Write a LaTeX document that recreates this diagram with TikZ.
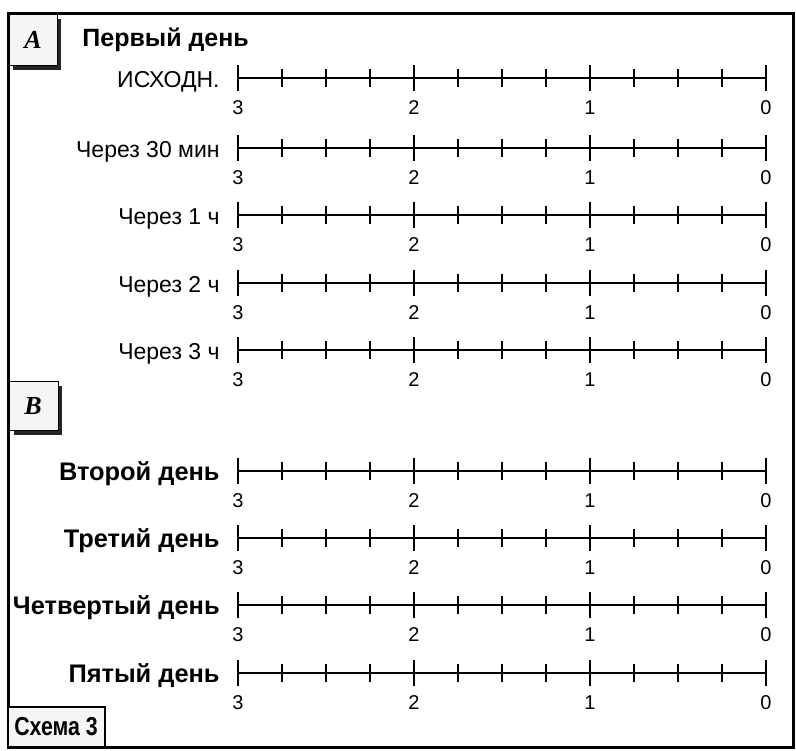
\documentclass[tikz,border=0pt]{standalone}
\usepackage{fontspec}
\setmainfont{Liberation Sans}
\newfontfamily\abfont{Liberation Serif}
\newfontfamily\narrowfont[FakeStretch=0.82]{Liberation Sans}

\begin{document}
\begin{tikzpicture}[x=0.5pt,y=-0.5pt,
    axis/.style={line width=1.4pt},
    major/.style={line width=1pt},
    minor/.style={line width=0.6pt},
    lbl/.style={anchor=base east,inner sep=0,font=\fontsize{11.5}{13}\selectfont},
    daylbl/.style={anchor=base east,inner sep=0,font=\bfseries\fontsize{12.7}{15}\selectfont},
    num/.style={anchor=base,inner sep=0,font=\fontsize{10}{11}\selectfont},
    tag/.style={inner sep=0,font=\abfont\bfseries\itshape\fontsize{13}{15}\selectfont}]
    \useasboundingbox (0,0) rectangle (796,750);
    %frame
    \draw [line width=1.5pt] (8,13) rectangle (793,747);
    %box A
    \fill [black!85] (13,19) rectangle (61,70);
    \draw [fill=gray!8] (9,14) rectangle (57,65);
    \node [tag] (tagA) at (33,40) {A};
    \node [anchor=base west,inner sep=0,font=\bfseries\fontsize{12.5}{15}\selectfont] (day1) at (82,46) {Первый день};
    %box B
    \fill [black!85] (14,386) rectangle (62,435);
    \draw [fill=gray!8] (9,381) rectangle (58,430);
    \node [tag] (tagB) at (33,406) {B};
    %scales
    \foreach \y/\t/\s in {78/ИСХОДН./lbl,148/Через 30 мин/lbl,215/Через 1 ч/lbl,283/Через 2 ч/lbl,350/Через 3 ч/lbl,
        471/Второй день/daylbl,538/Третий день/daylbl,605/Четвертый день/daylbl,673/Пятый день/daylbl} {
      \node [\s] (row\y) at (220,\y+9) {\t};
      \draw [axis] (238,\y) -- (766,\y);
      \foreach \i in {1,2,3,5,6,7,9,10,11}
        \draw [minor] (238+44*\i,\y-9) -- (238+44*\i,\y+9);
      \foreach \x/\n in {238/3,414/2,590/1,766/0} {
        \draw [major] (\x,\y-13) -- (\x,\y+13);
        \node [num] at (\x,\y+36) {\n};
      }
    }
    %caption
    \draw [line width=1pt,fill=gray!8] (8,707) rectangle (105,747);
    \node [inner sep=0,font=\narrowfont\bfseries\fontsize{13}{15}\selectfont] (cap) at (56,727) {Схема 3};
  \end{tikzpicture}
\end{document}
